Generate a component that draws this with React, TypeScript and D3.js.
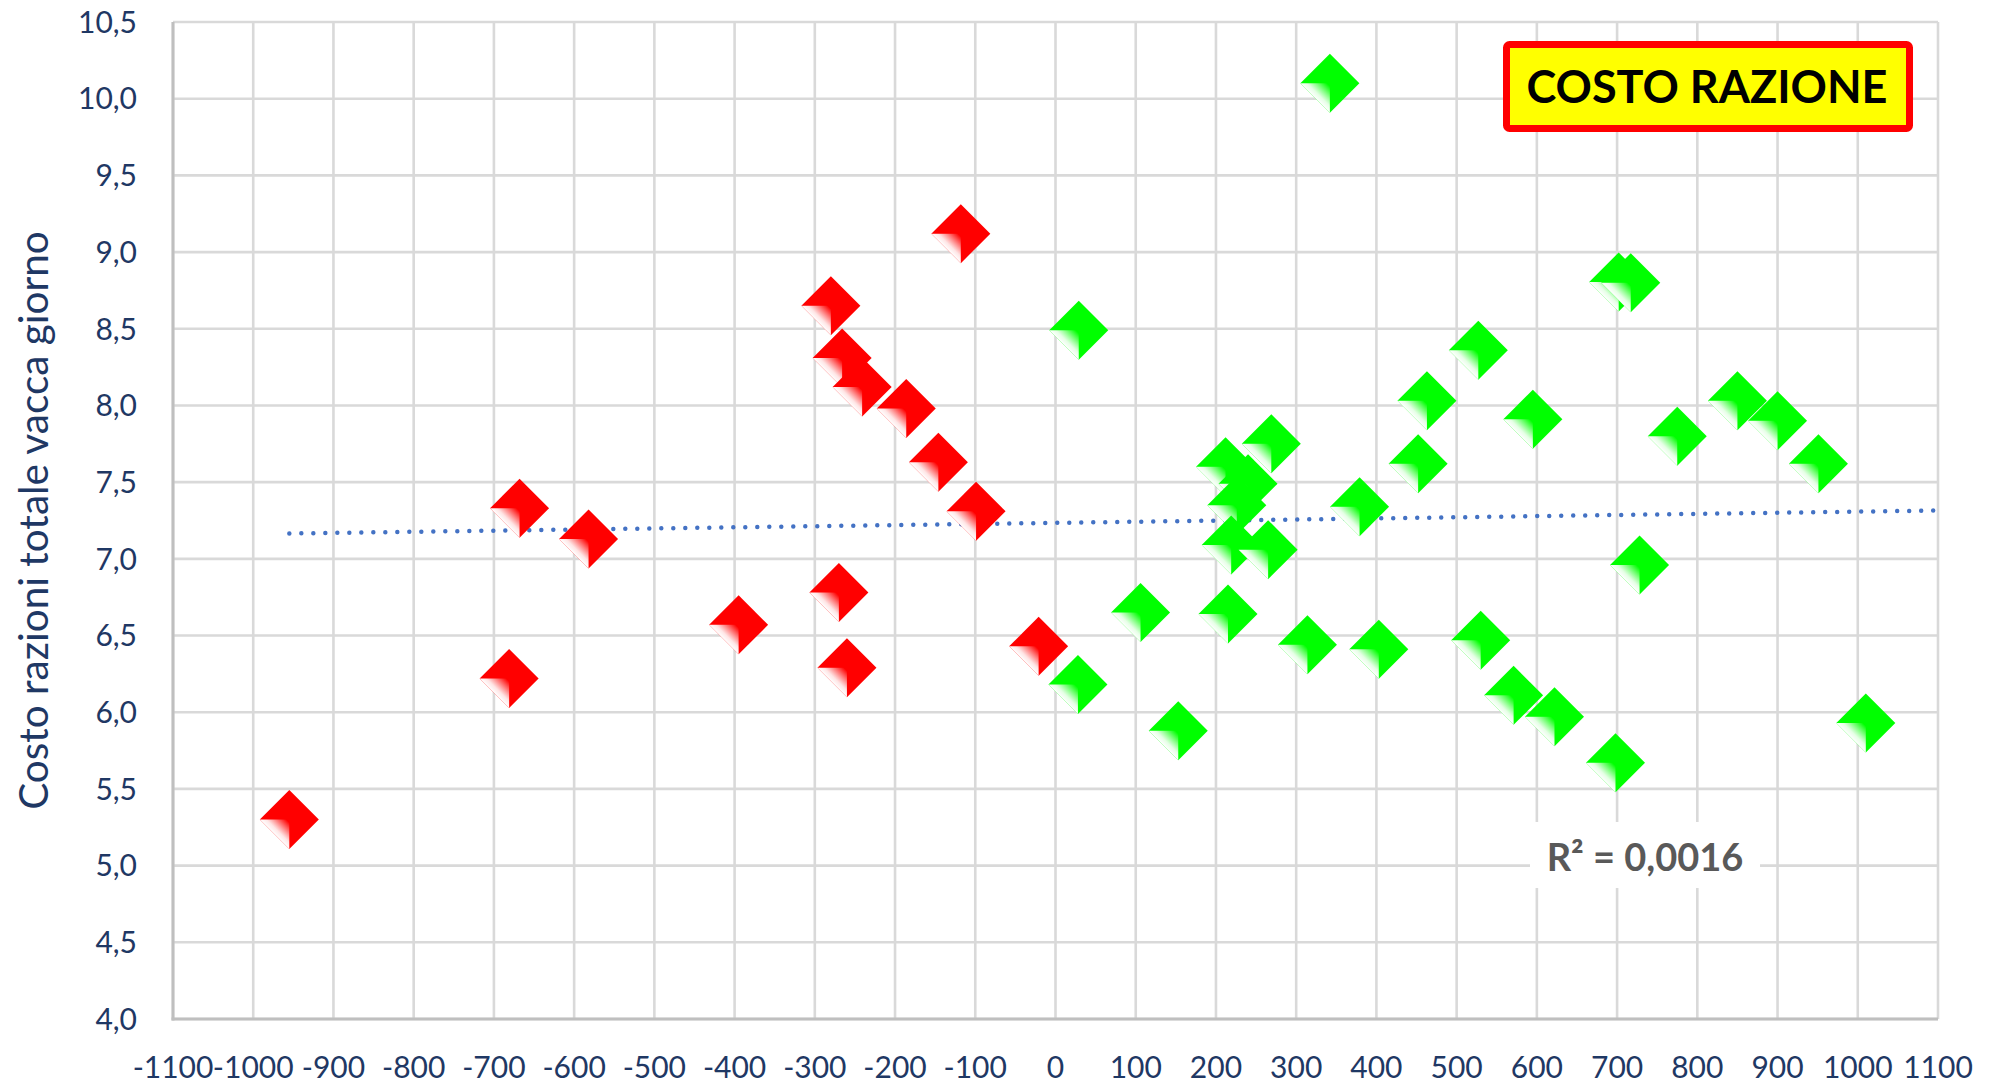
import React, { useEffect, useRef } from 'react';
import * as d3 from 'd3';

// red series (below-average group)
const redX = [-955, -681, -668, -582, -395, -280, -266, -241, -270, -260, -186, -146, -118, -99, -21];
const redY = [5.30, 6.22, 7.33, 7.13, 6.57, 8.65, 8.31, 8.12, 6.78, 6.29, 7.98, 7.63, 9.12, 7.31, 6.43];

// green series (above-average group)
const greenX = [29, 28, 106, 153, 212, 240, 226, 219, 215, 269, 265, 314, 342, 379, 403, 452, 463, 527, 530, 571, 595, 622, 702, 717, 698, 728, 775, 850, 900, 951, 1010];
const greenY = [8.49, 6.18, 6.65, 5.88, 7.60, 7.49, 7.35, 7.09, 6.64, 7.75, 7.06, 6.44, 10.10, 7.34, 6.41, 7.62, 8.03, 8.36, 6.47, 6.11, 7.91, 5.97, 8.805, 8.80, 5.67, 6.96, 7.80, 8.03, 7.90, 7.62, 5.93];

// linear trendline as shown in the chart (start / end)
const trendX = [-955, 1100];
const trendY = [7.165, 7.315];

const xTickValues = [-1100, -1000, -900, -800, -700, -600, -500, -400, -300, -200, -100, 0, 100, 200, 300, 400, 500, 600, 700, 800, 900, 1000, 1100];
const yTickValues = [4.0, 4.5, 5.0, 5.5, 6.0, 6.5, 7.0, 7.5, 8.0, 8.5, 9.0, 9.5, 10.0, 10.5];

const yTitle = 'Costo razioni totale vacca giorno';
const chartTitle = 'COSTO RAZIONE';
const r2Label = 'R² = 0,0016';

const FONT = 'Lato, "Open Sans", sans-serif';

const App: React.FC = () => {
  const svgRef = useRef<SVGSVGElement>(null);

  useEffect(() => {
    if (!svgRef.current) return;
    const svg = d3.select(svgRef.current);
    svg.selectAll('*').remove();

    const width = 1997;
    const height = 1088;
    const margin = { top: 22, right: 59, bottom: 69, left: 173 };

    const x = d3.scaleLinear().domain([-1100, 1100]).range([margin.left, width - margin.right]);
    const y = d3.scaleLinear().domain([4, 10.5]).range([height - margin.bottom, margin.top]);

    const r = 29.5;

    // gradients for the bevelled diamond
    const defs = svg.append('defs');
    const addGrad = (id: string, color: string) => {
      const g = defs.append('linearGradient')
        .attr('id', id)
        .attr('gradientUnits', 'userSpaceOnUse')
        .attr('x1', -r * 0.5).attr('y1', r * 0.5)
        .attr('x2', -r * 0.05).attr('y2', r * 0.05);
      g.append('stop').attr('offset', 0).attr('stop-color', '#ffffff');
      g.append('stop').attr('offset', 0.25).attr('stop-color', '#ffffff').attr('stop-opacity', 0.9);
      g.append('stop').attr('offset', 1).attr('stop-color', color);
    };
    addGrad('hl-red', '#FF0000');
    addGrad('hl-green', '#00FF00');

    // grid
    svg.append('g')
      .selectAll('line')
      .data(xTickValues)
      .enter()
      .append('line')
      .attr('x1', d => x(d)).attr('x2', d => x(d))
      .attr('y1', y(10.5)).attr('y2', y(4))
      .attr('stroke', '#D9D9D9')
      .attr('stroke-width', 2.6);

    svg.append('g')
      .selectAll('line')
      .data(yTickValues)
      .enter()
      .append('line')
      .attr('x1', x(-1100)).attr('x2', x(1100))
      .attr('y1', d => y(d)).attr('y2', d => y(d))
      .attr('stroke', '#D9D9D9')
      .attr('stroke-width', 2.6);

    // axis lines
    svg.append('line')
      .attr('x1', x(-1100)).attr('x2', x(-1100))
      .attr('y1', y(10.5)).attr('y2', y(4) + 1.5)
      .attr('stroke', '#BFBFBF').attr('stroke-width', 3);
    svg.append('line')
      .attr('x1', x(-1100) - 1.5).attr('x2', x(1100))
      .attr('y1', y(4)).attr('y2', y(4))
      .attr('stroke', '#BFBFBF').attr('stroke-width', 3);

    // tick labels
    svg.append('g')
      .selectAll('text')
      .data(yTickValues)
      .enter()
      .append('text')
      .attr('x', x(-1100) - 36)
      .attr('y', d => y(d))
      .attr('dy', '0.36em')
      .attr('text-anchor', 'end')
      .attr('font-family', FONT)
      .attr('font-size', 30)
      .attr('fill', '#1F3864')
      .text(d => d.toFixed(1).replace('.', ','));

    svg.append('g')
      .selectAll('text')
      .data(xTickValues)
      .enter()
      .append('text')
      .attr('x', d => x(d))
      .attr('y', 1078)
      .attr('text-anchor', 'middle')
      .attr('font-family', FONT)
      .attr('font-size', 30)
      .attr('fill', '#1F3864')
      .text(d => String(d));

    // y axis title
    svg.append('text')
      .attr('transform', `translate(48,${(y(4) + y(10.5)) / 2}) rotate(-90)`)
      .attr('text-anchor', 'middle')
      .attr('font-family', FONT)
      .attr('font-size', 40.5)
      .attr('fill', '#1F3864')
      .text(yTitle);

    // trend line
    const trendLine = d3.line<number>()
      .x((d, i) => x(trendX[i]))
      .y(d => y(d));
    svg.append('path')
      .attr('d', trendLine(trendY))
      .attr('fill', 'none')
      .attr('stroke', '#4472C4')
      .attr('stroke-width', 4.5)
      .attr('stroke-linecap', 'round')
      .attr('stroke-dasharray', '0 12');

    // markers
    const drawSeries = (xs: number[], ys: number[], color: string, grad: string) => {
      const pts = xs.map((v, i) => ({ x: v, y: ys[i] }));
      const g = svg.append('g')
        .selectAll('g')
        .data(pts)
        .enter()
        .append('g')
        .attr('transform', d => `translate(${x(d.x)},${y(d.y)})`);
      g.append('path')
        .attr('d', `M0,${-r}L${r},0L0,${r}L${-r},0Z`)
        .attr('fill', color);
      g.append('path')
        .attr('d', `M${-r},0L0,0L0,${r}Z`)
        .attr('fill', `url(#${grad})`);
    };
    drawSeries(redX, redY, '#FF0000', 'hl-red');
    drawSeries(greenX, greenY, '#00FF00', 'hl-green');

    // R² label
    svg.append('rect')
      .attr('x', 1530).attr('y', 822)
      .attr('width', 230).attr('height', 66)
      .attr('fill', '#ffffff');
    svg.append('text')
      .attr('x', 1645).attr('y', 857)
      .attr('dy', '0.36em')
      .attr('text-anchor', 'middle')
      .attr('font-family', FONT)
      .attr('font-weight', 'bold')
      .attr('font-size', 38)
      .attr('fill', '#595959')
      .text(r2Label);

    // title box
    svg.append('rect')
      .attr('x', 1506.5).attr('y', 44.5)
      .attr('width', 403).attr('height', 84)
      .attr('rx', 3)
      .attr('fill', '#FFFF00')
      .attr('stroke', '#FF0000')
      .attr('stroke-width', 7);
    svg.append('text')
      .attr('x', 1707).attr('y', 87)
      .attr('dy', '0.36em')
      .attr('text-anchor', 'middle')
      .attr('font-family', FONT)
      .attr('font-weight', 'bold')
      .attr('font-size', 45)
      .attr('fill', '#000000')
      .text(chartTitle);
  }, []);

  return (
    <svg
      ref={svgRef}
      width={1997}
      height={1088}
      style={{ position: 'absolute', left: 0, top: 0, background: '#ffffff' }}
    />
  );
};

export default App;
